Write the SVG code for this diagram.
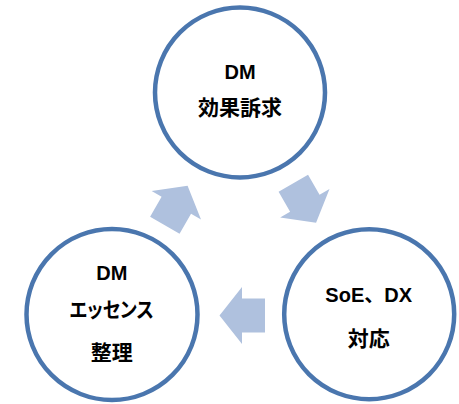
<svg xmlns="http://www.w3.org/2000/svg" xmlns:xlink="http://www.w3.org/1999/xlink" width="459" height="404" viewBox="0 0 459 404">
<style>
.node{fill:#ffffff;stroke:#4a76ae;stroke-width:4.5}
.arrow{fill:#afc1de}
.t{font-family:"Liberation Sans","Noto Sans CJK JP",sans-serif;font-weight:bold;fill:#000;text-anchor:middle;font-size:20px}
.j{font-family:"Noto Sans CJK JP",sans-serif;font-weight:bold;fill:#000;text-anchor:middle;font-size:21px;font-feature-settings:"palt" 1}
</style>
<defs>
<path id="arr" d="M -22.75 0 L -0.25 -28.5 L -0.25 -17 L 22.75 -17 L 22.75 17 L -0.25 17 L -0.25 28.5 Z"/>
</defs>
<rect width="459" height="404" fill="#ffffff"/>
<g id="connectors">
<use xlink:href="#arr" class="arrow" transform="translate(176.2,205.5) rotate(120)"/>
<use xlink:href="#arr" class="arrow" transform="translate(304.7,203) rotate(240)"/>
<use xlink:href="#arr" class="arrow" transform="translate(242.25,315.5)"/>
</g>
<g id="node-top">
<circle class="node" cx="240" cy="92.5" r="85"/>
<text class="t" x="240" y="79">DM</text>
<text class="j" x="240" y="115">効果訴求</text>
</g>
<g id="node-right">
<circle class="node" cx="369.2" cy="314.2" r="85"/>
<text class="t" x="368.7" y="301.7">SoE、DX</text>
<text class="j" x="368.8" y="346">対応</text>
</g>
<g id="node-left">
<circle class="node" cx="112" cy="314.5" r="85.5"/>
<text class="t" x="111.8" y="280">DM</text>
<text class="j" x="111.7" y="317" textLength="84" lengthAdjust="spacingAndGlyphs">エッセンス</text>
<text class="j" x="111.7" y="360">整理</text>
</g>
</svg>
